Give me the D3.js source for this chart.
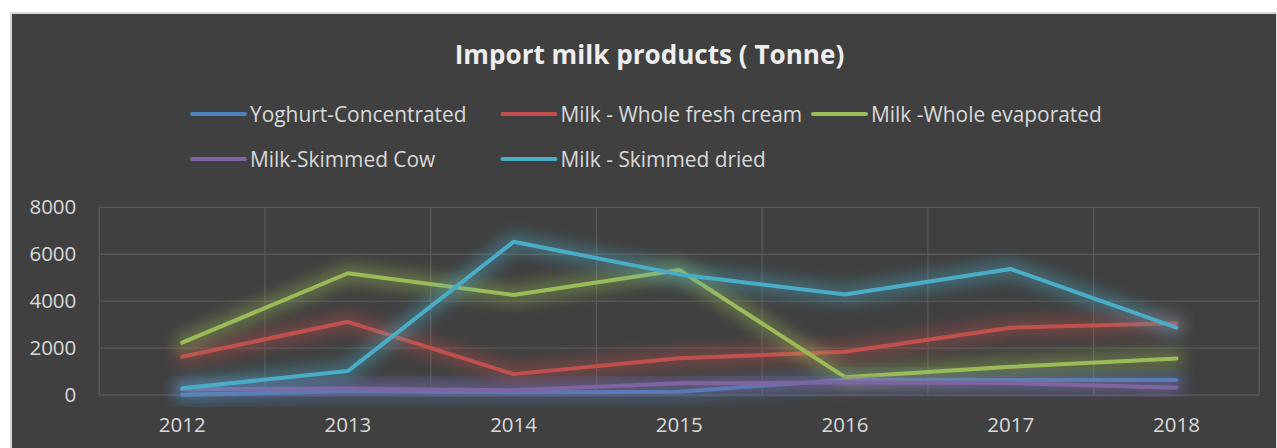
<!DOCTYPE html>
<html>
<head>
<meta charset="utf-8">
<script src="https://cdn.jsdelivr.net/npm/d3@7"></script>
<style>
  html, body { margin: 0; padding: 0; background: #ffffff; }
  svg { display: block; }
  text { font-family: "Open Sans", "DejaVu Sans", sans-serif; }
</style>
</head>
<body>
<svg id="chart" width="1277" height="448"></svg>
<script>
// Import volumes of milk products, tonnes per year
const years = ["2012", "2013", "2014", "2015", "2016", "2017", "2018"];
const yoghurtConcentrated = [10, 160, 120, 140, 650, 640, 640];
const milkWholeFreshCream = [1630, 3120, 890, 1570, 1840, 2870, 3060];
const milkWholeEvaporated = [2230, 5190, 4260, 5330, 760, 1200, 1560];
const milkSkimmedCow = [240, 280, 200, 500, 530, 510, 310];
const milkSkimmedDried = [285, 1020, 6530, 5140, 4280, 5370, 2870];
const yTicks = [0, 2000, 4000, 6000, 8000];

const seriesNames = [
  "Yoghurt-Concentrated",
  "Milk - Whole fresh cream",
  "Milk -Whole evaporated",
  "Milk-Skimmed Cow",
  "Milk - Skimmed dried"
];
const seriesValues = [
  yoghurtConcentrated,
  milkWholeFreshCream,
  milkWholeEvaporated,
  milkSkimmedCow,
  milkSkimmedDried
];
const seriesColors = ["#4f81bd", "#c0504d", "#9bbb59", "#8064a2", "#4bacc6"];

const series = seriesNames.map((name, i) => ({
  name,
  color: seriesColors[i],
  values: seriesValues[i].map((v, j) => ({ year: years[j], value: v }))
}));

const svg = d3.select("#chart");

// chart frame
svg.append("rect").attr("x", 10).attr("y", 12).attr("width", 1267).attr("height", 436).attr("fill", "#d9d9d9");
svg.append("rect").attr("x", 12).attr("y", 14).attr("width", 1264).attr("height", 434).attr("fill", "#404040");

// glow filter
const defs = svg.append("defs");
defs.append("filter")
  .attr("id", "glow")
  .attr("x", "-20%").attr("y", "-80%")
  .attr("width", "140%").attr("height", "260%")
  .append("feGaussianBlur")
  .attr("stdDeviation", 8);

// title
svg.append("text")
  .attr("x", 649.5)
  .attr("y", 64)
  .attr("text-anchor", "middle")
  .attr("font-size", 26.1)
  .attr("font-weight", "bold")
  .attr("fill", "#eeeeee")
  .text("Import milk products ( Tonne)");

// legend, laid out in columns of equal width
const legendLeft = 191, legendCol = 310.5, legendRows = [114, 159], perRow = 3;
const legend = svg.append("g");
series.forEach((s, i) => {
  const gx = legendLeft + (i % perRow) * legendCol;
  const gy = legendRows[Math.floor(i / perRow)];
  const g = legend.append("g").attr("transform", `translate(${gx},${gy})`);
  g.append("line")
    .attr("x1", 1).attr("x2", 54)
    .attr("stroke", s.color).attr("stroke-width", 4).attr("stroke-linecap", "round");
  g.append("text")
    .attr("x", 59).attr("y", 7.5)
    .attr("font-size", 20.9)
    .attr("fill", "#d9d9d9")
    .text(s.name);
});

// scales
const x = d3.scaleBand().domain(years).range([99.3, 1259.3]);
const y = d3.scaleLinear().domain([0, 8000]).range([395, 207.3]);

// gridlines
const grid = svg.append("g").attr("stroke", "#585858").attr("stroke-width", 1.3);
grid.selectAll("line.h").data(yTicks).join("line")
  .attr("class", "h")
  .attr("x1", x.range()[0]).attr("x2", x.range()[1])
  .attr("y1", d => y(d)).attr("y2", d => y(d));
const bounds = years.map(d => x(d)).concat([x.range()[1]]);
grid.selectAll("line.v").data(bounds).join("line")
  .attr("class", "v")
  .attr("x1", d => d).attr("x2", d => d)
  .attr("y1", y(8000)).attr("y2", y(0));

// axes
const yAxis = svg.append("g")
  .attr("transform", `translate(${x.range()[0]},0)`)
  .call(d3.axisLeft(y).tickValues(yTicks).tickSize(0).tickPadding(23).tickFormat(d3.format("d")));
const xAxis = svg.append("g")
  .attr("transform", `translate(0,${y(0)})`)
  .call(d3.axisBottom(x).tickSize(0).tickPadding(22));
[yAxis, xAxis].forEach(a => {
  a.select(".domain").remove();
  a.selectAll("text")
    .attr("font-family", "'Open Sans', sans-serif")
    .attr("font-size", 20.5)
    .attr("fill", "#d9d9d9");
});

// series lines with a soft glow behind each one
const line = d3.line()
  .x(d => x(d.year) + x.bandwidth() / 2)
  .y(d => y(d.value));

series.forEach(s => {
  svg.append("path")
    .datum(s.values)
    .attr("d", line)
    .attr("fill", "none")
    .attr("stroke", s.color)
    .attr("stroke-width", 16)
    .attr("stroke-linejoin", "round")
    .attr("stroke-linecap", "round")
    .attr("opacity", 0.45)
    .attr("filter", "url(#glow)");
  svg.append("path")
    .datum(s.values)
    .attr("d", line)
    .attr("fill", "none")
    .attr("stroke", s.color)
    .attr("stroke-width", 4)
    .attr("stroke-linejoin", "round")
    .attr("stroke-linecap", "round");
});
</script>
</body>
</html>
